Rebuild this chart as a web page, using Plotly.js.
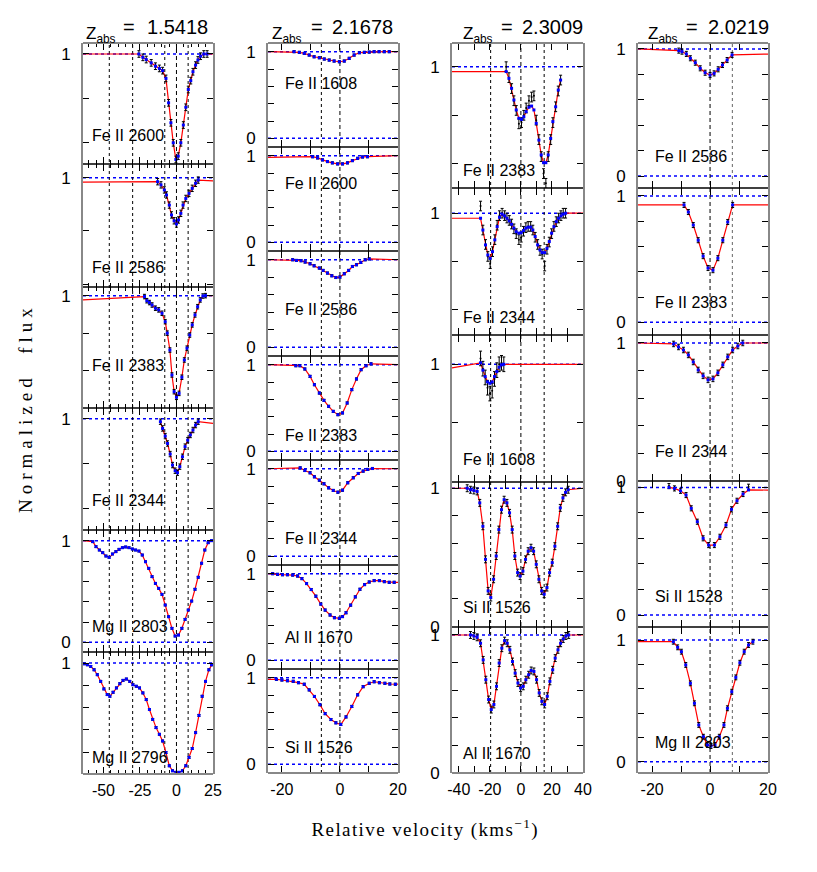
<!DOCTYPE html>
<html><head><meta charset="utf-8">
<script src="https://cdn.plot.ly/plotly-3.0.1.min.js"></script>
<style>body{margin:0;background:#fff}</style>
</head><body><div id="chart" style="width:817px;height:872px"></div>
<script>
// ---------------- DATA ----------------
// Column 1 : z_abs = 1.5418
const c1_z = '1.5418';
const c1_comp = [-46, -30, -8, 0, 8];
const c1p1_v = [-25.7,-23.0,-20.7,-17.3,-14.4,-11.7,-9.5,-7.2,-5.4,-3.8,-2.2,-0.4,1.2,3.0,4.7,6.4,8.1,9.8,11.3,13.1,14.7,16.5,18.7,21.0];
const c1p1_f = [1.0,0.985,0.975,0.96,0.945,0.935,0.925,0.89,0.78,0.69,0.6,0.525,0.54,0.6,0.68,0.76,0.84,0.88,0.92,0.95,0.973,0.99,1.0,1.0];
const c1p1_cont = [1.0, 1.0];
const c1p2_v = [-12.9,-10.6,-8.3,-6.8,-4.9,-3.4,-1.6,0,1.4,3.0,4.5,6.4,8.6,10.8,13.1,14.9];
const c1p2_f = [0.985,0.973,0.954,0.935,0.897,0.86,0.838,0.826,0.841,0.866,0.897,0.922,0.941,0.96,0.979,0.991];
const c1p2_cont = [0.983, 0.988];
const c1p3_v = [-21.9,-20.3,-18.5,-16.7,-14.4,-12.2,-9.9,-7.7,-6.3,-4.5,-3.1,-1.6,0,1.8,3.7,5.4,7.2,9.1,10.8,12.7,14.5,16.3,18.1,19.9];
const c1p3_f = [0.995,0.973,0.963,0.95,0.933,0.924,0.906,0.861,0.8,0.71,0.577,0.488,0.458,0.479,0.565,0.657,0.72,0.79,0.844,0.897,0.941,0.977,0.998,1.0];
const c1p3_cont = [0.977, 1.0];
const c1p4_v = [-11.0,-9.5,-7.7,-6.1,-4.3,-2.7,-0.9,0.7,2.3,4.1,5.9,7.7,9.5,11.3,13.1,14.9];
const c1p4_f = [0.987,0.957,0.923,0.89,0.843,0.794,0.769,0.76,0.787,0.831,0.876,0.905,0.928,0.95,0.972,0.987];
const c1p4_cont = [null, 0.98];
const c1p5_v = [-57.3,-55.1,-52.8,-50.5,-48.3,-46.1,-43.8,-41.5,-39.3,-37.0,-34.8,-32.5,-30.2,-28.0,-25.7,-23.4,-21.2,-19.0,-16.7,-14.4,-12.2,-9.9,-7.7,-5.4,-3.1,-0.9,1.4,3.7,5.9,8.1,10.4,12.7,14.9,17.2,19.4,21.7,24.0];
const c1p5_f = [0.99,0.941,0.908,0.882,0.849,0.836,0.869,0.892,0.915,0.931,0.938,0.931,0.918,0.908,0.898,0.859,0.793,0.728,0.646,0.58,0.531,0.472,0.367,0.252,0.138,0.062,0.072,0.138,0.226,0.318,0.406,0.522,0.64,0.778,0.908,0.98,1.0];
const c1p5_cont = [1.0, 1.0];
const c1p6_v = [-63.2,-61.0,-58.7,-56.4,-54.2,-51.9,-49.7,-47.4,-45.6,-43.4,-41.1,-38.8,-36.6,-34.3,-32.0,-29.8,-27.5,-25.3,-23.0,-20.7,-18.5,-16.3,-14.0,-11.7,-9.5,-7.2,-4.9,-2.7,-0.4,1.8,4.1,6.4,8.6,10.8,13.1,15.4,17.6,19.9,22.2,24.0];
const c1p6_f = [0.994,0.985,0.97,0.94,0.896,0.836,0.768,0.717,0.702,0.738,0.777,0.815,0.845,0.857,0.836,0.806,0.792,0.777,0.732,0.672,0.583,0.494,0.42,0.36,0.3,0.196,0.077,0.032,0.018,0.018,0.032,0.077,0.152,0.232,0.375,0.53,0.702,0.836,0.94,0.985];
const c1p6_cont = [1.0, 1.0];

// Column 2 : z_abs = 2.1678
const c2_z = '2.1678';
const c2_comp = [-6.4, 0];
const c2p1_v = [-15.8,-14,-12.3,-10.6,-8.9,-7.1,-5.4,-3.7,-2,-0.2,1.5,3.2,4.9,6.7,8.4,10.1,11.8,13.5,15.3,17];
const c2p1_f = [1.0,0.992,0.98,0.961,0.941,0.93,0.915,0.903,0.892,0.884,0.892,0.923,0.961,0.988,0.992,0.995,1.0,1.0,1.0,1.0];
const c2p1_cont = [1.0, 1.0];
const c2p2_v = [-9.4,-7.7,-6,-4.3,-2.6,-0.8,0.9,2.6,4.3,6.1,7.8,9.5];
const c2p2_f = [0.988,0.974,0.951,0.932,0.917,0.905,0.905,0.917,0.943,0.969,0.985,0.988];
const c2p2_cont = [0.98, 1.0];
const c2p3_v = [-16.3,-15,-13.4,-12,-10.3,-8.9,-7.1,-5.8,-4.3,-2.8,-1.4,0,1.5,3,4.3,5.7,7.2,8.7,10.1];
const c2p3_f = [1.0,0.992,0.989,0.974,0.954,0.931,0.905,0.878,0.848,0.817,0.797,0.802,0.84,0.878,0.923,0.943,0.969,1.0,1.01];
const c2p3_cont = [1.0, 1.0];
const c2p4_v = [-15.2,-13.8,-12.1,-10.3,-8.8,-7.1,-5.5,-3.9,-2.3,-0.7,0.9,2.5,4.1,5.7,7.3,9,10.7];
const c2p4_f = [0.988,0.988,0.95,0.865,0.769,0.673,0.588,0.519,0.461,0.423,0.443,0.558,0.712,0.835,0.942,0.988,1.01];
const c2p4_cont = [1.0, 1.0];
const c2p5_v = [-13.7,-12.1,-10.3,-8.8,-7.1,-5.5,-3.9,-2.3,-0.7,0.9,2.7,4.6,6.3,8,9.6,11.2];
const c2p5_f = [1.01,0.98,0.954,0.908,0.87,0.828,0.782,0.752,0.732,0.755,0.84,0.897,0.946,0.973,0.992,1.003];
const c2p5_cont = [1.0, 1.0];
const c2p6_v = [-23.2,-21.5,-19.8,-18.1,-16.3,-14.6,-13.1,-11.5,-9.9,-8.3,-6.6,-5.1,-3.4,-1.9,-0.2,0.9,2.1,3.7,5.3,6.9,8.5,10.1,11.8,13.6,15.3,17,18.7];
const c2p6_f = [1.0,0.992,0.988,0.988,0.984,0.973,0.943,0.886,0.817,0.74,0.649,0.58,0.523,0.492,0.485,0.505,0.549,0.637,0.732,0.82,0.874,0.904,0.92,0.92,0.908,0.9,0.9];
const c2p6_cont = [1.0, 0.9];
const c2p7_v = [-21.9,-20,-18.1,-16.1,-14.3,-12.3,-10.6,-8.8,-6.9,-5.1,-3.1,-1.4,0.3,2.1,4.1,6.1,8,10.1,11.8,13.6,15.5,17.2,19.1];
const c2p7_f = [0.981,0.973,0.965,0.958,0.942,0.924,0.859,0.783,0.688,0.585,0.517,0.479,0.46,0.547,0.668,0.802,0.896,0.935,0.953,0.942,0.935,0.927,0.924];
const c2p7_cont = [0.98, 0.925];

// Column 3 : z_abs = 2.3009
const c3_z = '2.3009';
const c3_comp = [-19.5, 0, 15];
const c3p1_v = [-9.5,-7.7,-6,-4.5,-3,-1.3,0.4,1.9,3.4,5.2,6.9,8.4,9.9,11.6,13.1,14.6,16.1,17.6,19.2,20.6,22.4,24.1,25.6];
const c3p1_f = [0.98,0.952,0.911,0.863,0.822,0.788,0.783,0.794,0.815,0.833,0.838,0.822,0.767,0.698,0.637,0.605,0.605,0.637,0.705,0.774,0.835,0.904,0.945];
const c3p1_d = [1.0,0.955,0.91,0.86,0.82,0.765,0.77,0.8,0.83,0.86,0.875,0.88,0.78,0.7,0.63,0.56,0.52,0.63,0.7,0.77,0.835,0.9,0.945];
const c3p1_cont = [0.98, null];
const c3p2_v = [-26,-24.5,-22.8,-21.3,-19.8,-18.3,-16.8,-15.3,-13.8,-12.1,-10.5,-9,-7.5,-6,-4.5,-3,-1.3,0.2,1.7,3.2,4.7,6.3,7.7,9.2,10.8,12.3,13.7,15.3,16.8,18.3,19.8,21.3,22.8,24.3,25.8,27.3,28.8];
const c3p2_f = [0.979,0.93,0.868,0.826,0.812,0.84,0.889,0.944,0.983,0.996,0.989,0.979,0.968,0.954,0.938,0.923,0.917,0.919,0.928,0.938,0.942,0.942,0.93,0.903,0.868,0.847,0.836,0.836,0.854,0.882,0.917,0.944,0.965,0.979,0.989,0.996,1.0];
const c3p2_d = [1.03,0.93,0.87,0.82,0.79,0.84,0.89,0.95,0.99,1.0,0.99,0.98,0.97,0.955,0.935,0.915,0.89,0.9,0.925,0.94,0.945,0.945,0.93,0.9,0.87,0.845,0.83,0.78,0.85,0.88,0.915,0.945,0.965,0.98,0.99,1.0,1.0];
const c3p2_cont = [0.979, 1.0];
const c3p3_v = [-26,-24.5,-23,-21.5,-20,-18.5,-17,-15.5,-14,-12.5,-11];
const c3p3_f = [1.005,0.98,0.958,0.94,0.935,0.94,0.958,0.975,0.99,0.998,1.0];
const c3p3_d = [1.02,0.985,0.955,0.92,0.9,0.91,0.95,0.98,1.0,1.005,1.0];
const c3p3_cont = [0.988, 1.0];
const c3p4_v = [-34.6,-32.5,-30.3,-28.2,-26.5,-24.5,-22.8,-21.1,-19.4,-17.6,-15.9,-14.2,-12.5,-10.8,-9,-7.3,-5.6,-3.9,-2.1,-0.5,1.3,3,4.7,6.5,8.2,9.9,11.6,13.4,15,16.8,18.5,20.2,21.9,23.7,25.4,27.1,28.8,30.5];
const c3p4_f = [1.0,0.989,0.984,0.977,0.894,0.725,0.486,0.258,0.21,0.342,0.51,0.701,0.845,0.917,0.894,0.822,0.701,0.51,0.39,0.365,0.401,0.486,0.545,0.57,0.545,0.45,0.342,0.258,0.234,0.282,0.39,0.462,0.581,0.725,0.858,0.93,0.97,0.989];
const c3p4_cont = [1.0, 1.0];
const c3p5_v = [-32.5,-30.3,-28.2,-26,-24.3,-22.6,-20.8,-19.1,-17.4,-15.7,-14,-12.3,-10.5,-8.8,-7.1,-5.4,-3.7,-1.9,-0.2,1.5,3.2,5,6.6,8.4,10.1,11.8,13.5,15.3,17,18.7,20.5,22.1,23.9,25.6,27.3,29,30.8];
const c3p5_f = [1.0,0.993,0.983,0.94,0.819,0.675,0.531,0.458,0.495,0.627,0.796,0.904,0.959,0.94,0.892,0.807,0.723,0.651,0.615,0.627,0.675,0.711,0.742,0.735,0.675,0.579,0.518,0.495,0.555,0.663,0.747,0.832,0.892,0.94,0.971,0.993,1.0];
const c3p5_cont = [1.0, 1.0];

// Column 4 : z_abs = 2.0219
const c4_z = '2.0219';
const c4_comp = [0, 7.7];
const c4p1_v = [-10.8,-9.7,-8.2,-6.8,-5.1,-3.4,-1.7,0,1.4,2.8,4.3,5.9,7.6];
const c4p1_f = [0.987,0.979,0.961,0.927,0.892,0.848,0.813,0.795,0.808,0.84,0.874,0.913,0.953];
const c4p1_cont = [1.0, 0.96];
const c4p2_v = [-9,-7.5,-5.8,-4.1,-2.4,-0.7,1,2.7,4.4,6.1,7.8];
const c4p2_f = [0.929,0.873,0.77,0.65,0.524,0.43,0.413,0.508,0.65,0.794,0.929];
const c4p2_cont = [0.93, 0.93];
const c4p3_v = [-12.6,-10.9,-9.2,-7.5,-5.8,-4.1,-2.4,-0.7,1,2.7,4.4,6.1,7.8,9.6,11.3];
const c4p3_f = [0.993,0.971,0.949,0.913,0.862,0.804,0.761,0.732,0.739,0.783,0.841,0.899,0.949,0.978,1.0];
const c4p3_cont = [1.0, 1.0];
const c4p4_v = [-14.2,-12.3,-10.2,-8.3,-6.5,-4.4,-2.4,-0.5,1.5,3.4,5.5,7.4,9.3,11.4,13.3];
const c4p4_f = [1.0,0.992,0.973,0.94,0.836,0.731,0.601,0.548,0.548,0.613,0.705,0.828,0.895,0.948,0.98];
const c4p4_d = [1.01,0.992,0.973,0.94,0.836,0.731,0.601,0.548,0.548,0.613,0.705,0.828,0.895,0.948,1.005];
const c4p4_cont = [null, 0.979];
const c4p5_v = [-12.7,-11.2,-9.9,-8.4,-6.8,-5.4,-3.9,-2.3,-0.9,0.3,1.7,3.2,4.8,6,7.5,8.9,10.3,11.8,13.3,14.8];
const c4p5_f = [0.986,0.94,0.904,0.795,0.644,0.48,0.302,0.205,0.137,0.129,0.137,0.205,0.302,0.439,0.575,0.693,0.813,0.904,0.959,0.986];
const c4p5_cont = [0.986, null];

// ---------------- LAYOUT CONFIG ----------------
const W = 817, H = 872;
const SANS = "'Liberation Sans Narrow','Arial Narrow','Liberation Sans',Arial,sans-serif";
const SERIF = "'Liberation Serif','DejaVu Serif',serif";
const TF = 16;

const columns = [
  {x0:83,  x1:213, top:43, bot:774, range:[-64,25.02], tv:[-50,-25,0,25], tt:['-50','-25','0','25'], minor:5, comp:c1_comp, z:c1_z, lx:90,  zx:84,  eqx:121, nx:145},
  {x0:268, x1:398, top:43, bot:773, range:[-24.8,20.02], tv:[-20,-10,0,10,20], tt:['-20','','0','','20'], comp:c2_comp, z:c2_z, lx:283, zx:270, eqx:309, nx:330},
  {x0:452, x1:583, top:43, bot:773, range:[-44.4,40.03], tv:[-40,-30,-20,-10,0,10,20,30,40], tt:['-40','','-20','','0','','20','','40'], comp:c3_comp, z:c3_z, lx:461, zx:461, eqx:499, nx:520},
  {x0:638, x1:768, top:43, bot:773, range:[-24.9,20.02], tv:[-20,-10,0,10,20], tt:['-20','','0','','20'], comp:c4_comp, z:c4_z, lx:653, zx:646, eqx:684, nx:706}
];

const panels = [
  {c:0, t:43,  b:164, yr:[0.5045,1.0495], lab:'Fe II 2600', ly:136, v:c1p1_v, m:c1p1_f, cont:c1p1_cont, e:0.015},
  {c:0, t:164, b:287, yr:[0.589,1.0515],  lab:'Fe II 2586', ly:267, v:c1p2_v, m:c1p2_f, cont:c1p2_cont, e:0.012},
  {c:0, t:287, b:408, yr:[0.401,1.046],   lab:'Fe II 2383', ly:365, v:c1p3_v, m:c1p3_f, cont:c1p3_cont, e:0.012},
  {c:0, t:408, b:530, yr:[0.505,1.048],   lab:'Fe II 2344', ly:500, v:c1p4_v, m:c1p4_f, cont:c1p4_cont, e:0.012},
  {c:0, t:530, b:652, yr:[-0.095,1.105],  lab:'Mg II 2803', ly:626, v:c1p5_v, m:c1p5_f, cont:c1p5_cont, e:0.008},
  {c:0, t:652, b:774, yr:[0.003,1.1],     lab:'Mg II 2796', ly:757, v:c1p6_v, m:c1p6_f, cont:c1p6_cont, e:0.008},

  {c:1, t:43,  b:147, yr:[-0.1,1.1], lab:'Fe II 1608', ly:84,  v:c2p1_v, m:c2p1_f, cont:c2p1_cont, e:0.012},
  {c:1, t:147, b:251, yr:[-0.1,1.1], lab:'Fe II 2600', ly:183, v:c2p2_v, m:c2p2_f, cont:c2p2_cont, e:0.012},
  {c:1, t:251, b:356, yr:[-0.1,1.1], lab:'Fe II 2586', ly:310, v:c2p3_v, m:c2p3_f, cont:c2p3_cont, e:0.012},
  {c:1, t:356, b:460, yr:[-0.1,1.1], lab:'Fe II 2383', ly:435, v:c2p4_v, m:c2p4_f, cont:c2p4_cont, e:0.012},
  {c:1, t:460, b:565, yr:[-0.1,1.1], lab:'Fe II 2344', ly:538, v:c2p5_v, m:c2p5_f, cont:c2p5_cont, e:0.012},
  {c:1, t:565, b:669, yr:[-0.1,1.1], lab:'Al II 1670', ly:637, v:c2p6_v, m:c2p6_f, cont:c2p6_cont, e:0.012},
  {c:1, t:669, b:773, yr:[-0.1,1.1], lab:'Si II 1526', ly:747, v:c2p7_v, m:c2p7_f, cont:c2p7_cont, e:0.012},

  {c:2, t:43,  b:188, yr:[0.5008,1.0975], lab:'Fe II 2383', ly:170, v:c3p1_v, m:c3p1_f, d:c3p1_d, cont:c3p1_cont, e:0.02},
  {c:2, t:188, b:335, yr:[0.493,1.105],   lab:'Fe II 2344', ly:317, v:c3p2_v, m:c3p2_f, d:c3p2_d, cont:c3p2_cont, e:0.02},
  {c:2, t:335, b:482, yr:[0.598,1.1],     lab:'Fe II 1608', ly:460, v:c3p3_v, m:c3p3_f, d:c3p3_d, cont:c3p3_cont, e:0.025},
  {c:2, t:482, b:627, yr:[-0.003,1.045],  lab:'Si II 1526', ly:607, v:c3p4_v, m:c3p4_f, cont:c3p4_cont, e:0.025},
  {c:2, t:627, b:773, yr:[-0.003,1.058],  lab:'Al II 1670', ly:753, v:c3p5_v, m:c3p5_f, cont:c3p5_cont, e:0.025},

  {c:3, t:43,  b:188, yr:[-0.094,1.047], lab:'Fe II 2586', ly:156, v:c4p1_v, m:c4p1_f, cont:c4p1_cont, e:0.02},
  {c:3, t:188, b:335, yr:[-0.1,1.063],   lab:'Fe II 2383', ly:302, v:c4p2_v, m:c4p2_f, cont:c4p2_cont, e:0.02},
  {c:3, t:335, b:481, yr:[-0.003,1.058], lab:'Fe II 2344', ly:451, v:c4p3_v, m:c4p3_f, cont:c4p3_cont, e:0.02},
  {c:3, t:481, b:627, yr:[-0.094,1.05],  lab:'Si II 1528', ly:596, v:c4p4_v, m:c4p4_f, d:c4p4_d, cont:c4p4_cont, e:0.02},
  {c:3, t:627, b:773, yr:[-0.093,1.107], lab:'Mg II 2803', ly:742, v:c4p5_v, m:c4p5_f, cont:c4p5_cont, e:0.02}
];

// ---------------- BUILD ----------------
const data = [], shapes = [], annotations = [];
const layout = {
  width: W, height: H, margin: {l:0, r:0, t:0, b:0, pad:0},
  paper_bgcolor: '#fff', plot_bgcolor: 'rgba(0,0,0,0)', showlegend: false,
  shapes: shapes, annotations: annotations
};
const firstOfCol = {}, lastOfCol = {};
panels.forEach((p, i) => { if (!(p.c in firstOfCol)) firstOfCol[p.c] = i + 1; lastOfCol[p.c] = i + 1; });

panels.forEach((p, i) => {
  const k = i + 1, c = columns[p.c];
  const xr = 'x' + k, yr = 'y' + k;
  const bottom = lastOfCol[p.c] === k;
  const first = firstOfCol[p.c] === k;
  layout['xaxis' + k] = {
    domain: [c.x0 / W, c.x1 / W], range: c.range, anchor: yr,
    showgrid: false, zeroline: false, showline: false,
    mirror: 'ticks', ticks: 'inside', ticklen: 7, tickwidth: 1, tickcolor: '#000',
    tickmode: 'array', tickvals: c.tv, ticktext: c.tt, showticklabels: bottom,
    ticklabelstandoff: 5,
    tickfont: {family: SANS, size: TF, color: '#000'}, fixedrange: true
  };
  if (c.minor) layout['xaxis' + k].minor = {dtick: c.minor, tick0: 0, ticks: 'inside', ticklen: 4, tickcolor: '#000', tickwidth: 1, showgrid: false};
  const yt = [0, 0.2, 0.4, 0.6, 0.8, 1].filter(t => t >= p.yr[0] && t <= p.yr[1]);
  layout['yaxis' + k] = {
    domain: [1 - p.b / H, 1 - p.t / H], range: p.yr, anchor: xr,
    showgrid: false, zeroline: false, showline: true, linecolor: '#888', linewidth: 2,
    mirror: 'ticks', ticks: 'inside', ticklen: 6, tickwidth: 1, tickcolor: '#000',
    tickmode: 'array', tickvals: yt, ticktext: yt.map(t => t === 1 ? '1' : (t === 0 ? '0' : '')),
    ticklabelstandoff: 7,
    tickfont: {family: SANS, size: TF + 1, color: '#000'}, fixedrange: true
  };
  // model line with continuum extension
  const lx = [], ly = [];
  if (p.cont[0] !== null) { lx.push(c.range[0]); ly.push(p.cont[0]); }
  p.v.forEach((v, j) => { lx.push(v); ly.push(p.m[j]); });
  if (p.cont[1] !== null) { lx.push(c.range[1]); ly.push(p.cont[1]); }
  data.push({type: 'scatter', mode: 'lines', x: lx, y: ly, xaxis: xr, yaxis: yr,
    line: {color: '#ff0000', width: 1.2}, hoverinfo: 'skip'});
  // data with error bars
  data.push({type: 'scatter', mode: 'markers', x: p.v, y: p.d || p.m, xaxis: xr, yaxis: yr,
    marker: {color: '#000', size: 2},
    error_y: {type: 'constant', value: p.e, color: '#000', thickness: 1, width: 1.5}, hoverinfo: 'skip'});
  // model pixels
  data.push({type: 'scatter', mode: 'markers', x: p.v, y: p.m, xaxis: xr, yaxis: yr,
    marker: {color: '#0000ff', size: 3, symbol: 'square'}, hoverinfo: 'skip'});
  // blue reference levels
  [0, 1].forEach(lv => {
    if (lv > p.yr[0] + 0.01 && lv < p.yr[1]) {
      shapes.push({type: 'line', xref: 'paper', yref: yr, x0: c.x0 / W, x1: c.x1 / W, y0: lv, y1: lv,
        line: {color: '#0000ff', width: 1.5, dash: 'dot'}, layer: 'below'});
    }
  });
  // black separator under each non-bottom panel
  if (!bottom) {
    shapes.push({type: 'line', xref: 'paper', yref: 'paper', x0: c.x0 / W, x1: c.x1 / W, y0: 1 - p.b / H, y1: 1 - p.b / H,
      line: {color: '#000', width: 1.5}, layer: 'above'});
  }
  // label
  annotations.push({xref: 'paper', yref: 'paper', x: c.lx / W, y: 1 - p.ly / H, xanchor: 'left', yanchor: 'middle',
    text: p.lab, showarrow: false, font: {family: SANS, size: TF, color: '#000'}});
});

columns.forEach((c, ci) => {
  const k = firstOfCol[ci];
  c.comp.forEach(v => {
    shapes.push({type: 'line', xref: 'x' + k, yref: 'paper', x0: v, x1: v, y0: 1 - c.bot / H, y1: 1 - c.top / H,
      line: {color: (ci === 3 && v !== 0) ? '#666' : '#000', width: 1, dash: v === 0 ? '4px,3px' : 'dot'}, layer: 'below'});
  });
  // gray frame top/bottom of each column
  shapes.push({type: 'line', xref: 'paper', yref: 'paper', x0: c.x0 / W, x1: c.x1 / W, y0: 1 - c.top / H, y1: 1 - c.top / H,
    line: {color: '#888', width: 2}, layer: 'above'});
  shapes.push({type: 'line', xref: 'paper', yref: 'paper', x0: c.x0 / W, x1: c.x1 / W, y0: 1 - c.bot / H, y1: 1 - c.bot / H,
    line: {color: '#888', width: 2}, layer: 'above'});
  annotations.push({xref: 'paper', yref: 'paper', x: c.zx / W, y: 1 - 35 / H, xanchor: 'left', yanchor: 'middle',
    text: 'Z<sub>abs</sub>', showarrow: false, font: {family: SANS, size: 17, color: '#000'}});
  annotations.push({xref: 'paper', yref: 'paper', x: c.eqx / W, y: 1 - 27 / H, xanchor: 'left', yanchor: 'middle',
    text: '=', showarrow: false, font: {family: SANS, size: 20, color: '#000'}});
  annotations.push({xref: 'paper', yref: 'paper', x: c.nx / W, y: 1 - 27 / H, xanchor: 'left', yanchor: 'middle',
    text: c.z, showarrow: false, font: {family: SANS, size: 20, color: '#000'}});
});

annotations.push({xref: 'paper', yref: 'paper', x: 25 / W, y: 1 - 408 / H, xanchor: 'center', yanchor: 'middle',
  text: 'Normalized\u00a0\u00a0flux', textangle: -90, showarrow: false, font: {family: SERIF, size: 19, color: '#000'}});
annotations.push({xref: 'paper', yref: 'paper', x: 425 / W, y: 1 - 828 / H, xanchor: 'center', yanchor: 'middle',
  text: 'Relative velocity (kms<sup>\u22121</sup>)', showarrow: false, font: {family: SERIF, size: 19, color: '#000'}});

Plotly.newPlot('chart', data, layout, {staticPlot: true}).then(gd => {
  gd.querySelectorAll('.annotation-text').forEach(t => {
    const s = t.textContent;
    if (s.indexOf('Normalized') === 0) t.style.letterSpacing = '5px';
    if (s.indexOf('Relative') === 0) t.style.letterSpacing = '1.4px';
  });
});
</script></body></html>
